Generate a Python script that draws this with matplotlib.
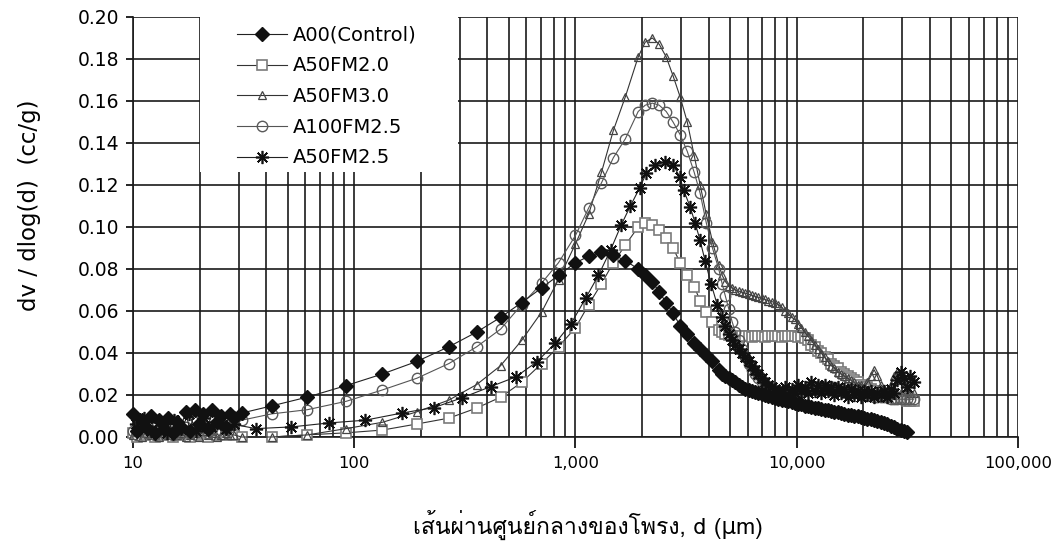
import matplotlib
matplotlib.use('Agg')
import matplotlib.pyplot as plt
import numpy as np
from matplotlib import font_manager
from matplotlib.ft2font import FT2Font
from matplotlib.patches import Rectangle
from matplotlib.ticker import FixedLocator, FuncFormatter, NullFormatter, LogLocator

plt.rcParams['font.family'] = 'DejaVu Sans'


def thai_family():
    # find any installed face that carries Thai glyphs
    for f in font_manager.fontManager.ttflist:
        try:
            if FT2Font(f.fname).get_char_index(0x0E2A):
                return f.name
        except Exception:
            pass
    return None


# pore diameter steps (um): small/medium pores, four mixes share these
mix_steps = [10, 10.47, 10.96, 11.47, 12.0, 12.57, 13.16, 13.77, 14.42, 15.1, 15.8, 16.5, 17.3, 18.1,
             19.0, 19.9, 20.8, 21.8, 22.8, 23.9, 25.0, 26.2, 27.4, 28.6,
             31, 42.3, 61.4, 92, 134, 192, 268, 358, 459, 571, 703, 838, 1000, 1146, 1310, 1483, 1680,
             1920, 2065, 2225, 2390, 2570, 2760, 2970, 3200, 3440, 3660, 3900, 4160, 4440]
# A50FM2.5 steps below 4.5 mm
star_steps = [10.3, 11.2, 12.1, 13.1, 14.2, 15.3, 16.5, 17.9, 19.3, 20.9, 22.6, 24.4, 26.4, 28.5,
              36, 52, 77, 112, 164, 229, 306, 414, 537, 667, 812, 955, 1110, 1270, 1440, 1610, 1770,
              1950, 2090, 2290, 2540, 2760, 2960, 3080, 3300, 3470, 3650, 3850, 4100, 4370]
# large pores, all five mixes
tail_steps = [4600, 4760, 4930, 5100, 5280, 5460, 5650, 5850, 6060, 6270,
              6490, 6710, 6950, 7190, 7440, 7700, 7970, 8250, 8540, 8840,
              9150, 9470, 9800, 10140, 10500, 10860, 11240, 11640, 12040, 12460,
              12900, 13350, 13820, 14300, 14800, 15320, 15860, 16410, 16990, 17580,
              18200, 18830, 19490, 20180, 20880, 21610, 22370, 23150, 23960, 24800,
              25670, 26570, 27500, 28460, 29460, 30490, 31550, 32660, 33800]

a00 = [0.011, 0.003, 0.008, 0.005, 0.010, 0.002, 0.008, 0.004, 0.009, 0.002, 0.007, 0.005, 0.012, 0.003,
       0.013, 0.006, 0.011, 0.004, 0.013, 0.007, 0.010, 0.005, 0.011, 0.009,
       0.0114, 0.0148, 0.019, 0.0245, 0.030, 0.036, 0.043, 0.050, 0.057, 0.064, 0.071, 0.077, 0.083,
       0.086, 0.088, 0.0867, 0.084,
       0.080, 0.077, 0.074, 0.069, 0.064, 0.059, 0.053, 0.049, 0.045, 0.042, 0.039, 0.036, 0.032,
       0.030, 0.029, 0.028, 0.027, 0.026, 0.025, 0.024, 0.023, 0.0225, 0.022,
       0.0215, 0.021, 0.0205, 0.020, 0.0195, 0.019, 0.0185, 0.018, 0.0178, 0.0175,
       0.017, 0.0165, 0.016, 0.0158, 0.0155, 0.015, 0.0147, 0.0143, 0.014, 0.0137,
       0.0133, 0.013, 0.0127, 0.0123, 0.012, 0.0117, 0.0113, 0.011, 0.0107, 0.0103,
       0.010, 0.0098, 0.0095, 0.0092, 0.0088, 0.0085, 0.008, 0.0075, 0.007, 0.0065,
       0.006, 0.0053, 0.0047, 0.004, 0.0033, 0.0027, 0.0022, np.nan, np.nan]

a50fm20 = [0.002, 0.000, 0.003, 0.001, 0.002, 0.000, 0.003, 0.001, 0.002, 0.000, 0.002, 0.001, 0.003, 0.000,
           0.002, 0.001, 0.002, 0.000, 0.003, 0.001, 0.002, 0.001, 0.002, 0.001,
           0.000, 0.000, 0.001, 0.002, 0.0033, 0.0062, 0.009, 0.0138, 0.019, 0.026, 0.035, 0.043, 0.052,
           0.063, 0.073, 0.083, 0.0914,
           0.100, 0.102, 0.101, 0.0986, 0.095, 0.090, 0.083, 0.077, 0.0714, 0.065, 0.0595, 0.055, 0.051,
           0.050, 0.049, 0.0485, 0.048, 0.048, 0.0478, 0.048, 0.0482, 0.048, 0.0478,
           0.048, 0.0482, 0.048, 0.0478, 0.048, 0.0482, 0.048, 0.048, 0.0478, 0.048,
           0.0482, 0.048, 0.048, 0.0478, 0.048, 0.047, 0.046, 0.044, 0.043, 0.041,
           0.040, 0.038, 0.037, 0.035, 0.034, 0.033, 0.031, 0.030, 0.029, 0.028,
           0.027, 0.026, 0.025, 0.024, 0.024, 0.023, 0.022, 0.022, 0.021, 0.020,
           0.020, 0.019, 0.019, 0.018, 0.018, 0.018, 0.017, 0.017, 0.017]

a50fm30 = [0.001, 0.003, 0.000, 0.002, 0.001, 0.003, 0.000, 0.002, 0.001, 0.003, 0.001, 0.002, 0.000, 0.001,
           0.002, 0.000, 0.003, 0.001, 0.002, 0.000, 0.001, 0.002, 0.001, 0.001,
           0.000, 0.000, 0.001, 0.004, 0.007, 0.012, 0.0176, 0.025, 0.034, 0.046, 0.0595, 0.075, 0.092,
           0.106, 0.126, 0.146, 0.162,
           0.181, 0.188, 0.190, 0.187, 0.181, 0.172, 0.162, 0.150, 0.134, 0.120, 0.106, 0.093, 0.082,
           0.077, 0.074, 0.072, 0.071, 0.070, 0.0695, 0.069, 0.0685, 0.068, 0.0675,
           0.067, 0.0665, 0.066, 0.0655, 0.065, 0.0645, 0.064, 0.063, 0.062, 0.060,
           0.059, 0.057, 0.056, 0.054, 0.052, 0.050, 0.048, 0.046, 0.044, 0.042,
           0.040, 0.038, 0.036, 0.034, 0.033, 0.031, 0.030, 0.029, 0.028, 0.027,
           0.026, 0.025, 0.025, 0.024, 0.026, 0.029, 0.032, 0.029, 0.025, 0.023,
           0.022, 0.025, 0.029, 0.031, 0.027, 0.024, 0.022, 0.021, 0.021]

a100fm25 = [0.003, 0.001, 0.004, 0.002, 0.003, 0.001, 0.004, 0.002, 0.003, 0.001, 0.004, 0.002, 0.005, 0.002,
            0.004, 0.003, 0.005, 0.002, 0.004, 0.003, 0.006, 0.004, 0.005, 0.006,
            0.008, 0.011, 0.013, 0.017, 0.0224, 0.028, 0.035, 0.043, 0.0514, 0.063, 0.0733, 0.083, 0.096,
            0.109, 0.121, 0.133, 0.142,
            0.155, 0.158, 0.159, 0.158, 0.155, 0.150, 0.144, 0.136, 0.126, 0.116, 0.102, 0.090, 0.080,
            0.073, 0.067, 0.061, 0.055, 0.050, 0.046, 0.042, 0.038, 0.035, 0.032,
            0.030, 0.028, 0.026, 0.025, 0.024, 0.023, 0.022, 0.022, 0.021, 0.021,
            0.021, 0.021, 0.021, 0.021, 0.022, 0.022, 0.023, 0.023, 0.024, 0.024,
            0.024, 0.024, 0.024, 0.024, 0.024, 0.023, 0.023, 0.022, 0.022, 0.021,
            0.021, 0.021, 0.020, 0.020, 0.020, 0.020, 0.019, 0.019, 0.019, 0.019,
            0.019, 0.018, 0.018, 0.018, 0.018, 0.018, 0.018, 0.018, 0.018]

a50fm25 = [0.006, 0.009, 0.003, 0.007, 0.002, 0.008, 0.004, 0.011, 0.003, 0.009, 0.005, 0.007, 0.004, 0.006,
           0.004, 0.0048, 0.0067, 0.008, 0.0114, 0.014, 0.0186, 0.024, 0.0286, 0.0357, 0.0448, 0.054,
           0.066, 0.077, 0.089, 0.101, 0.110,
           0.1186, 0.1257, 0.1295, 0.131, 0.1295, 0.124, 0.1176, 0.1095, 0.102, 0.094, 0.084, 0.073, 0.063,
           0.057, 0.053, 0.049, 0.046, 0.044, 0.042, 0.040, 0.038, 0.036, 0.034,
           0.032, 0.030, 0.028, 0.026, 0.025, 0.024, 0.023, 0.022, 0.021, 0.024,
           0.020, 0.023, 0.021, 0.025, 0.022, 0.024, 0.021, 0.026, 0.022, 0.025,
           0.021, 0.025, 0.022, 0.024, 0.020, 0.024, 0.021, 0.023, 0.019, 0.023,
           0.020, 0.022, 0.019, 0.022, 0.020, 0.022, 0.019, 0.021, 0.020, 0.022,
           0.019, 0.023, 0.021, 0.027, 0.031, 0.028, 0.024, 0.029, 0.026]

labels = ['A00(Control)', 'A50FM2.0', 'A50FM3.0', 'A100FM2.5', 'A50FM2.5']

diam = mix_steps + tail_steps
diam_star = star_steps + tail_steps

fig = plt.figure(figsize=(10.53, 5.5), dpi=100)
ax = fig.add_axes([133 / 1053, 1 - 437 / 550, 885 / 1053, 420 / 550])

line_kw = dict(lw=0.8, clip_on=False)
ax.plot(diam, a50fm20, color='#333333', marker='s', ms=7.5, mfc='white', mec='#7a7a7a', mew=1.2,
        label=labels[1], zorder=3, **line_kw)
ax.plot(diam, a50fm30, color='#333333', marker='^', ms=6, mfc='none', mec='#444444', mew=0.9,
        label=labels[2], zorder=3, **line_kw)
ax.plot(diam, a100fm25, color='#555555', marker='o', ms=7.5, mfc='none', mec='#5a5a5a', mew=1.0,
        label=labels[3], zorder=3, **line_kw)
ax.plot(diam_star, a50fm25, color='#222222', marker=(8, 2, 0), ms=9.5, mec='#111111', mew=1.2,
        label=labels[4], zorder=4, **line_kw)
ax.plot(diam, a00, color='#222222', marker='D', ms=7, mfc='#111111', mec='#111111',
        label=labels[0], zorder=4, **line_kw)

ax.set_xscale('log')
ax.set_xlim(10, 100000)
ax.set_ylim(0, 0.20)

ax.xaxis.set_major_locator(LogLocator(base=10, numticks=10))
ax.xaxis.set_minor_locator(LogLocator(base=10, subs=np.arange(2, 10), numticks=50))
ax.xaxis.set_major_formatter(FuncFormatter(lambda v, p: '{:,.0f}'.format(v)))
ax.xaxis.set_minor_formatter(NullFormatter())
ax.yaxis.set_major_locator(FixedLocator(np.arange(0, 0.201, 0.02)))
ax.yaxis.set_major_formatter(FuncFormatter(lambda v, p: '{:.2f}'.format(v)))

ax.set_axisbelow(True)
ax.grid(True, which='both', axis='x', color='#1a1a1a', lw=1.2)
ax.grid(True, which='major', axis='y', color='#1a1a1a', lw=1.2)
for s in ['top', 'right']:
    ax.spines[s].set_visible(False)
for s in ['left', 'bottom']:
    ax.spines[s].set_linewidth(1.2)
    ax.spines[s].set_color('#1a1a1a')

ax.tick_params(axis='x', which='major', direction='out', length=8, width=1.2, pad=6, labelsize=11.8)
ax.tick_params(axis='x', which='minor', length=0)
ax.tick_params(axis='y', direction='out', length=5, width=1.2, pad=5, labelsize=13.5)

# white panel behind the legend
ax.add_patch(Rectangle((0.0756, 0.631), 0.2912, 0.38, transform=ax.transAxes,
                       facecolor='white', edgecolor='none', zorder=1, clip_on=False))
handles, names = ax.get_legend_handles_labels()
order = [names.index(n) for n in labels]
ax.legend([handles[i] for i in order], [names[i] for i in order],
          loc='upper left', bbox_to_anchor=(0.117, 0.979), frameon=False, fontsize=14,
          handlelength=2.6, handletextpad=0.3, labelspacing=0.6, borderpad=0, borderaxespad=0)

fig.text(30 / 1053, 1 - 205 / 550, 'dv / dlog(d)  (cc/g)', rotation=90, ha='center', va='center', fontsize=16.5)

thai = thai_family()
fam = [thai, 'DejaVu Sans'] if thai else ['DejaVu Sans']
fig.text(588 / 1053, 1 - 525 / 550, 'เส้นผ่านศูนย์กลางของโพรง, d (μm)', ha='center', va='center',
         fontsize=16.5, family=fam)

fig.savefig('out.png', dpi=100)
